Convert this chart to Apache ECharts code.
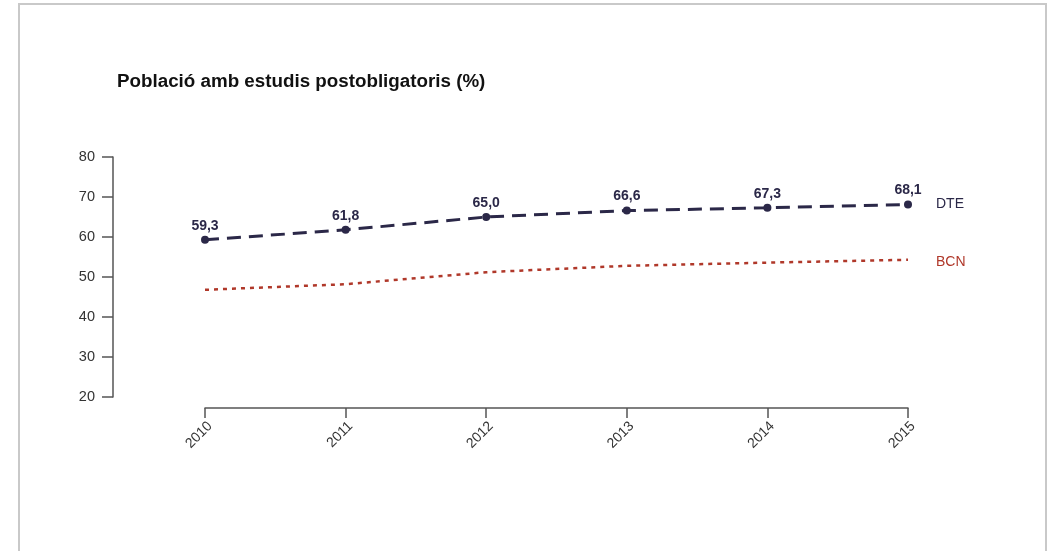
<!DOCTYPE html>
<html>
<head>
<meta charset="utf-8">
<script src="https://cdn.jsdelivr.net/npm/echarts@6/dist/echarts.min.js"></script>
<style>
html,body{margin:0;padding:0;background:#fff;}
#chart{position:absolute;left:0;top:0;width:1049px;height:551px;}
#frame{position:absolute;left:18px;top:3px;width:1025px;height:600px;border:2px solid #c9c9c9;pointer-events:none;}
</style>
</head>
<body>
<div id="chart"></div>
<div id="frame"></div>
<script>
const title = 'Població amb estudis postobligatoris (%)';
const years = ['2010', '2011', '2012', '2013', '2014', '2015'];
const dte = [59.3, 61.8, 65.0, 66.6, 67.3, 68.1];
const bcn = [46.8, 48.2, 51.2, 52.8, 53.6, 54.3];
const yMin = 20, yMax = 80, yStep = 10;

const navy = '#2b2848';
const red = '#b0382a';
const axisColor = '#555';
const font = '"Liberation Sans", Arial, sans-serif';

const chart = echarts.init(document.getElementById('chart'), null, {renderer: 'canvas'});
chart.setOption({
  animation: false,
  textStyle: {fontFamily: font},
  title: {
    text: title, left: 117, top: 72, padding: 0,
    textStyle: {fontFamily: font, fontSize: 18.8, fontWeight: 'bold', color: '#111'}
  },
  grid: {left: 205, right: 141, top: 157, bottom: 154},
  xAxis: {
    type: 'category', data: years, boundaryGap: false, offset: 11,
    axisLine: {lineStyle: {color: axisColor, width: 1.5}},
    axisTick: {length: 10, lineStyle: {color: axisColor, width: 1.5}, alignWithLabel: true},
    axisLabel: {rotate: 45, margin: 11, align: 'right', verticalAlign: 'top', fontSize: 14, color: '#333', fontFamily: font}
  },
  yAxis: {
    type: 'value', min: yMin, max: yMax, interval: yStep, offset: 92,
    splitLine: {show: false},
    axisLine: {show: true, lineStyle: {color: axisColor, width: 1.5}},
    axisTick: {show: true, length: 11, lineStyle: {color: axisColor, width: 1.5}},
    axisLabel: {margin: 18, fontSize: 14.5, color: '#333', fontFamily: font}
  },
  series: [
    {
      name: 'DTE', type: 'line', data: dte,
      symbol: 'circle', symbolSize: 8,
      itemStyle: {color: navy},
      lineStyle: {color: navy, width: 3, type: [14, 8]},
      label: {
        show: true, position: 'top', distance: 3,
        formatter: p => p.value.toFixed(1).replace('.', ','),
        fontSize: 14, fontWeight: 'bold', color: navy, fontFamily: font
      },
      endLabel: {show: true, formatter: '{a}', distance: 28, fontSize: 14, color: navy, fontFamily: font}
    },
    {
      name: 'BCN', type: 'line', data: bcn,
      symbol: 'none',
      lineStyle: {color: red, width: 2.5, type: [4, 5]},
      itemStyle: {color: red},
      endLabel: {show: true, formatter: '{a}', distance: 28, offset: [0, 2], fontSize: 14, color: red, fontFamily: font}
    }
  ]
});
</script>
</body>
</html>
